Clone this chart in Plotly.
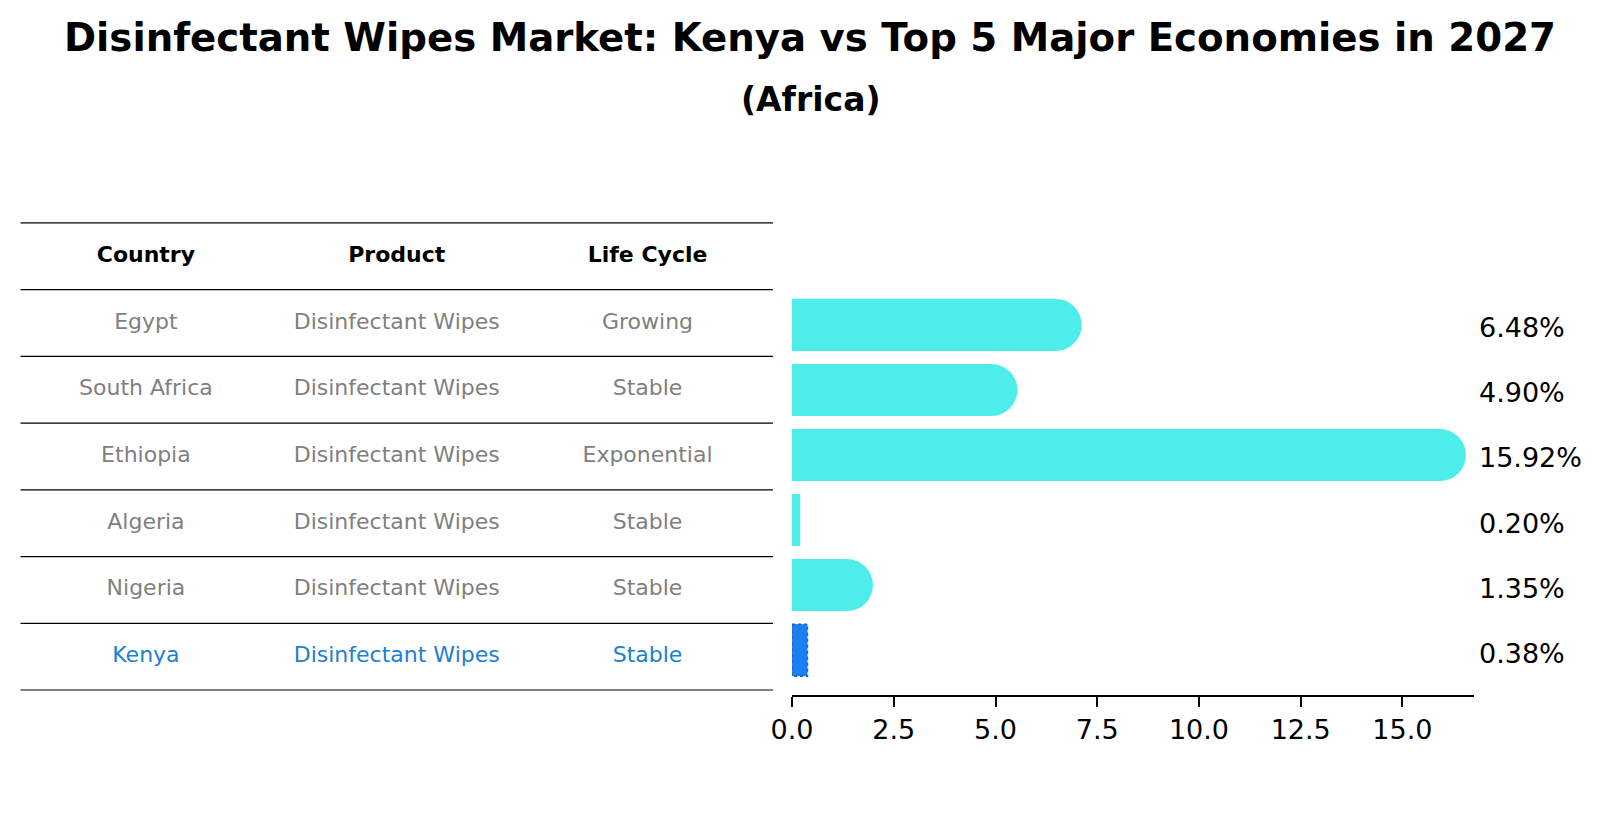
import plotly.graph_objects as go

# Data
countries = ["Egypt", "South Africa", "Ethiopia", "Algeria", "Nigeria", "Kenya"]
products = ["Disinfectant Wipes"] * 6
life_cycle = ["Growing", "Stable", "Exponential", "Stable", "Stable", "Stable"]
shares = [6.48, 4.90, 15.92, 0.20, 1.35, 0.38]
headers = ["Country", "Product", "Life Cycle"]
focus = "Kenya"
title = "Disinfectant Wipes Market: Kenya vs Top 5 Major Economies in 2027"
subtitle = "(Africa)"

CYAN = "#4deeea"
BLUE = "#1a7ff0"
BLUE_TXT = "#2080d0"
GREY = "#808080"
FONT = "DejaVu Sans"

rows = list(range(len(countries)))
is_focus = [c == focus for c in countries]

fig = go.Figure()

# bars
fig.add_trace(go.Bar(
    x=shares, y=rows, orientation="h", width=0.8,
    marker=dict(color=[BLUE if f else CYAN for f in is_focus], line=dict(width=0)),
    xaxis="x", yaxis="y", hoverinfo="skip", showlegend=False,
))

# rounded ends on the bigger bars
cap_x = [v for v, f in zip(shares, is_focus) if v >= 1 and not f]
cap_y = [r for r, v, f in zip(rows, shares, is_focus) if v >= 1 and not f]
fig.add_trace(go.Scatter(
    x=cap_x, y=cap_y, mode="markers",
    marker=dict(size=52, color=CYAN, line=dict(width=0)),
    xaxis="x", yaxis="y", hoverinfo="skip", showlegend=False, cliponaxis=False,
))

# dotted edge around the highlighted bar
for r, v, f in zip(rows, shares, is_focus):
    if f:
        fig.add_shape(type="rect", xref="x", yref="y", x0=0, x1=v, y0=r - 0.4, y1=r + 0.4,
                      line=dict(color="#2a5fa8", width=1.5, dash="dot"))

# value labels
for r, v in zip(rows, shares):
    fig.add_annotation(x=0.9158, xref="paper", y=r, yref="y", text=f"{v:.2f}%",
                       showarrow=False, xanchor="left", yanchor="middle", yshift=-3,
                       font=dict(family=FONT, size=27, color="black"))

# table text
cols = [countries, products, life_cycle]
for ci, h in enumerate(headers):
    fig.add_trace(go.Scatter(
        x=[ci], y=[-1], mode="text", text=[f"<b>{h}</b>"],
        textfont=dict(family=FONT, size=22, color="black"),
        xaxis="x2", yaxis="y2", hoverinfo="skip", showlegend=False,
    ))
    fig.add_trace(go.Scatter(
        x=[ci] * len(rows), y=rows, mode="text", text=cols[ci],
        textfont=dict(family=FONT, size=22, color=[BLUE_TXT if f else GREY for f in is_focus]),
        xaxis="x2", yaxis="y2", hoverinfo="skip", showlegend=False,
    ))

# table horizontal rules
for b in range(-1, len(rows) + 1):
    fig.add_shape(type="line", xref="x2 domain", yref="y2", x0=0, x1=1, y0=b - 0.5, y1=b - 0.5,
                  line=dict(color="black", width=1.2))

# title + subtitle
fig.add_annotation(x=0.5, y=0.9645, xref="paper", yref="paper", text=f"<b>{title}</b>",
                   showarrow=False, xanchor="center", yanchor="middle",
                   font=dict(family=FONT, size=38.7, color="black"))
fig.add_annotation(x=0.5, y=0.8894, xref="paper", yref="paper", text=f"<b>{subtitle}</b>",
                   showarrow=False, xanchor="center", yanchor="middle",
                   font=dict(family=FONT, size=33, color="black"))

fig.update_layout(
    width=1604, height=823,
    margin=dict(l=0, r=0, t=0, b=0),
    paper_bgcolor="white", plot_bgcolor="white",
    font=dict(family=FONT, color="black"),
    xaxis=dict(domain=[0.4888, 0.9140], range=[0, 16.76], showgrid=False, zeroline=False,
               showline=True, linecolor="black", linewidth=1.5, ticks="outside", ticklen=10,
               tickwidth=1.5, tickcolor="black", tick0=0, dtick=2.5, tickformat=".1f",
               tickfont=dict(family=FONT, size=27, color="black"), anchor="y", automargin=False),
    yaxis=dict(domain=[0.1652, 0.6695], range=[5.69, -0.69], showgrid=False, zeroline=False,
               showline=False, showticklabels=False, ticks="", anchor="x", automargin=False),
    xaxis2=dict(domain=[0.0078, 0.4769], range=[-0.5, 2.5], visible=False, anchor="y2",
                automargin=False),
    yaxis2=dict(domain=[0.1632, 0.7469], range=[5.6, -1.6], visible=False, anchor="x2",
                automargin=False),
)

fig.write_html("out.html")
